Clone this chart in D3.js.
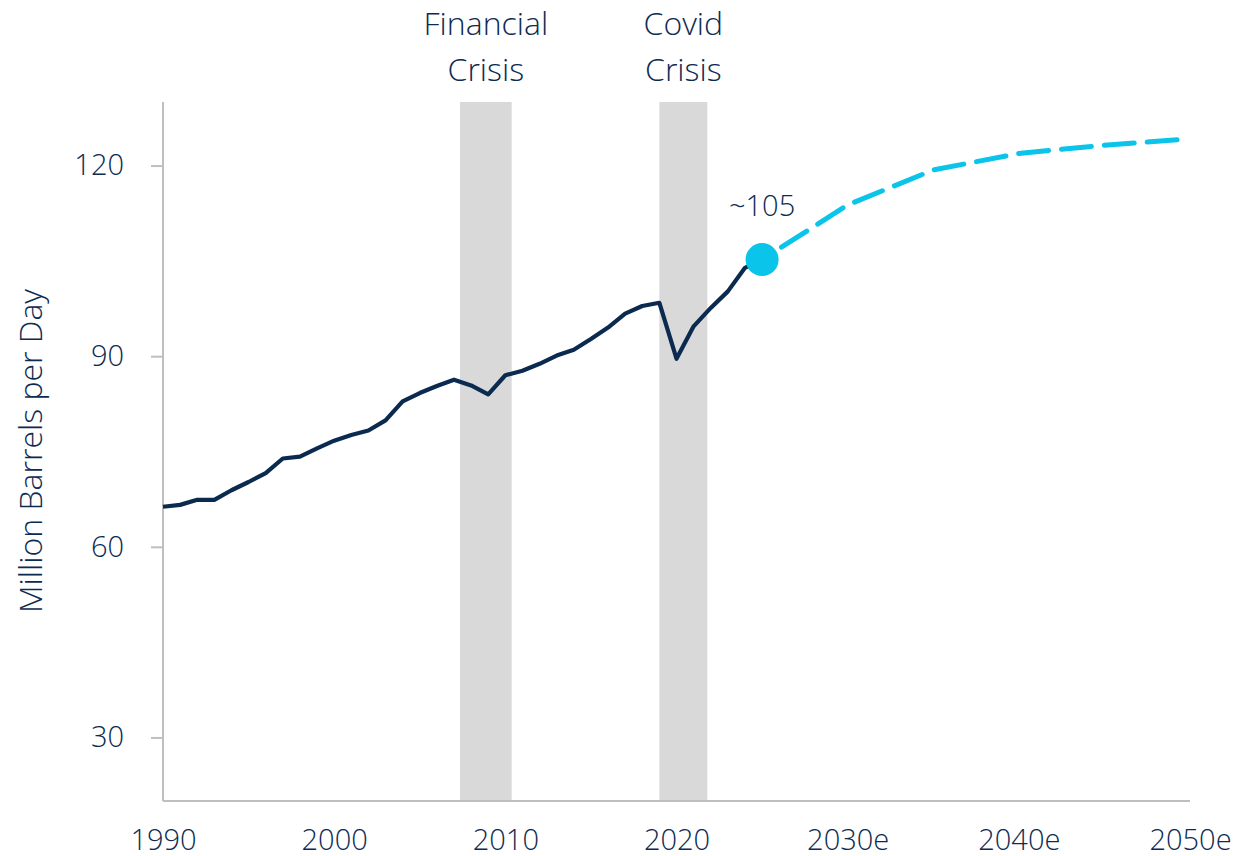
<!DOCTYPE html>
<html>
<head>
<meta charset="utf-8">
<script src="https://cdn.jsdelivr.net/npm/d3@7"></script>
<style>
  html, body { margin: 0; padding: 0; background: #ffffff; }
  svg { display: block; font-family: "Open Sans", "Noto Sans", sans-serif; }
</style>
</head>
<body>
<svg id="chart" width="1240" height="856"></svg>
<script>
// ---- data ----
const histYears = [1990,1991,1992,1993,1994,1995,1996,1997,1998,1999,
                   2000,2001,2002,2003,2004,2005,2006,2007,2008,2009,
                   2010,2011,2012,2013,2014,2015,2016,2017,2018,2019,
                   2020,2021,2022,2023,2024,2025];
const histValues = [66.3,66.6,67.4,67.4,68.9,70.2,71.6,73.9,74.2,75.5,
                    76.7,77.6,78.3,79.9,82.9,84.2,85.3,86.3,85.4,84.0,
                    87.0,87.7,88.8,90.1,91.0,92.7,94.5,96.7,97.9,98.4,
                    89.6,94.7,97.6,100.2,103.9,105.2];
const forecastYears = [2025,2030,2035,2040,2045,2050];
const forecastValues = [105.2,113.8,119.3,121.9,123.2,124.2];
const crisisNames = [["Financial","Crisis"],["Covid","Crisis"]];
const crisisStart = [2007.35, 2019.0];
const crisisEnd = [2010.37, 2021.8];
const xTickValues = [1990,2000,2010,2020,2030,2040,2050];
const xTickLabels = ["1990","2000","2010","2020","2030e","2040e","2050e"];
const yTickValues = [30,60,90,120];
const yTitle = "Million Barrels per Day";
const markerYear = 2025;
const markerValue = 105.2;
const markerLabel = "~105";

// ---- style ----
const navy = "#0b2a50";
const textColor = "#0d2b52";
const cyan = "#0bc4ea";
const axisGray = "#bfbfbf";
const bandGray = "#d9d9d9";
const fontSize = 29;
const wordSize = 32;

const svg = d3.select("#chart");
const mLeft = 163, mRight = 1190, mTop = 102, mBottom = 801;

const x = d3.scaleLinear().domain([1990, 2050]).range([mLeft, mRight]);
const y = d3.scaleLinear().domain([20, 130]).range([mBottom, mTop]);

// crisis bands
const bands = crisisStart.map((s, i) => ({s, e: crisisEnd[i], name: crisisNames[i]}));
svg.append("g").selectAll("rect").data(bands).join("rect")
  .attr("x", d => x(d.s))
  .attr("width", d => x(d.e) - x(d.s))
  .attr("y", y(130))
  .attr("height", y(20) - y(130))
  .attr("fill", bandGray);

const bandLabels = svg.append("g").selectAll("text").data(bands).join("text")
  .attr("x", d => (x(d.s) + x(d.e)) / 2)
  .attr("text-anchor", "middle")
  .attr("fill", textColor)
  .attr("font-size", wordSize)
  .attr("font-weight", 300);
bandLabels.append("tspan").attr("x", d => (x(d.s) + x(d.e)) / 2).attr("y", 35).text(d => d.name[0]);
bandLabels.append("tspan").attr("x", d => (x(d.s) + x(d.e)) / 2).attr("y", 81).text(d => d.name[1]);

// y axis
const yAxis = d3.axisLeft(y).tickValues(yTickValues).tickSize(12).tickPadding(27).tickFormat(d3.format("d"));
const gy = svg.append("g").attr("transform", `translate(${mLeft},0)`).call(yAxis);
gy.attr("font-family", null);
gy.select(".domain").attr("stroke", axisGray).attr("stroke-width", 2).attr("d", `M0,${mTop}V${mBottom}`);
gy.selectAll(".tick line").attr("stroke", axisGray).attr("stroke-width", 2);
gy.selectAll(".tick text").attr("fill", textColor).attr("font-size", fontSize)
  .attr("font-weight", 300);

// x axis
const xAxis = d3.axisBottom(x).tickValues(xTickValues).tickSize(0).tickPadding(0)
  .tickFormat((d, i) => xTickLabels[i]);
const gx = svg.append("g").attr("transform", `translate(0,${mBottom})`).call(xAxis);
gx.attr("font-family", null);
gx.select(".domain").attr("stroke", axisGray).attr("stroke-width", 2).attr("d", `M${mLeft},0H${mRight}`);
gx.selectAll(".tick text").attr("fill", textColor).attr("font-size", fontSize)
  .attr("font-weight", 300).attr("dy", null).attr("y", 49);

// y title
svg.append("text")
  .attr("transform", `translate(42,451) rotate(-90)`)
  .attr("text-anchor", "middle")
  .attr("fill", textColor)
  .attr("font-size", 32)
  .attr("font-weight", 300)
  .text(yTitle);

// lines
const line = d3.line().x(d => x(d[0])).y(d => y(d[1]));
svg.append("path")
  .datum(forecastYears.map((yr, i) => [yr, forecastValues[i]]))
  .attr("d", line)
  .attr("fill", "none")
  .attr("stroke", cyan)
  .attr("stroke-width", 5)
  .attr("stroke-dasharray", "30,13")
  .attr("stroke-dashoffset", 20)
  .attr("stroke-linecap", "round");

svg.append("path")
  .datum(histYears.map((yr, i) => [yr, histValues[i]]))
  .attr("d", line)
  .attr("fill", "none")
  .attr("stroke", navy)
  .attr("stroke-width", 4.2)
  .attr("stroke-linejoin", "round");

// marker
svg.append("circle")
  .attr("cx", x(markerYear))
  .attr("cy", y(markerValue))
  .attr("r", 16.5)
  .attr("fill", cyan);

svg.append("text")
  .attr("x", x(markerYear))
  .attr("y", 216)
  .attr("text-anchor", "middle")
  .attr("fill", textColor)
  .attr("font-size", fontSize)
  .attr("font-weight", 300)
  .text(markerLabel);
</script>
</body>
</html>
